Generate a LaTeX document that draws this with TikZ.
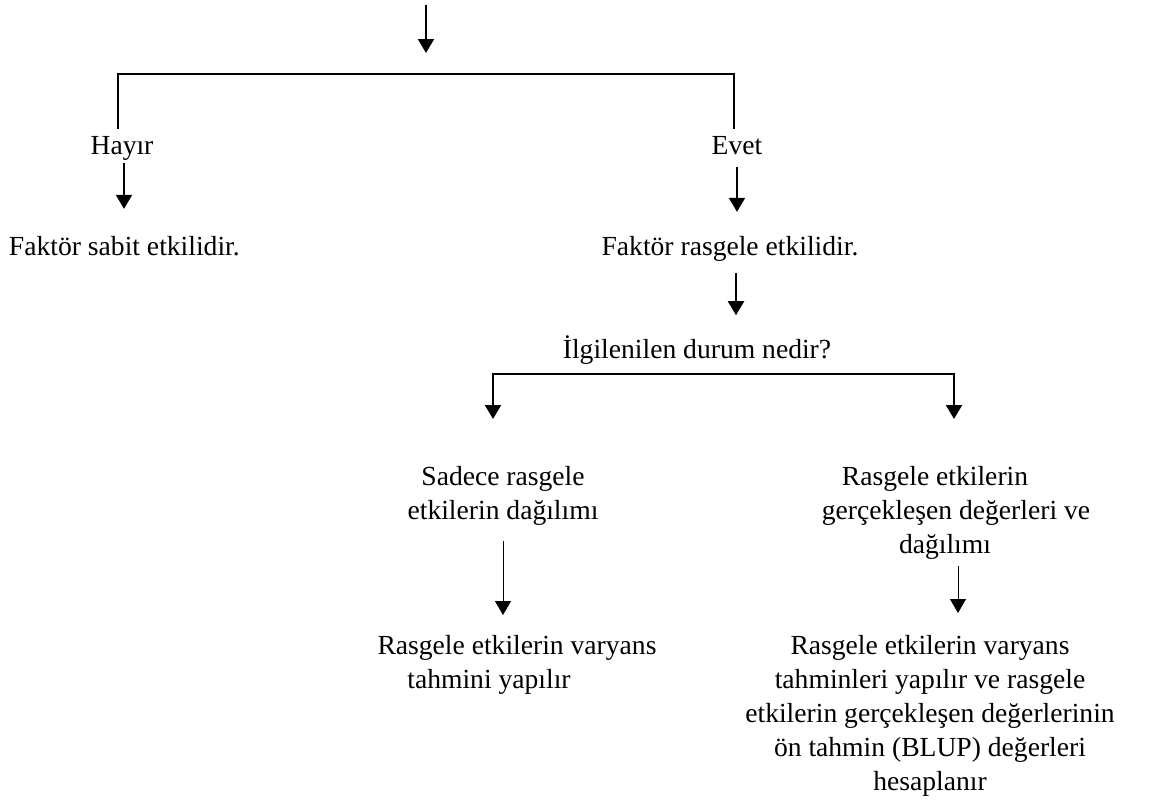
\documentclass[tikz,border=0pt]{standalone}
\usepackage{fontspec}
\setmainfont{Liberation Serif}
\usepackage{tikz}
\usetikzlibrary{arrows.meta}

\begin{document}
\begin{tikzpicture}[x=0.5pt,y=-0.5pt,line width=1pt,
  every node/.style={font=\fontsize{13.8}{17}\selectfont,inner sep=3pt},
  head/.tip={Triangle[width=8pt,length=7pt]}]
\useasboundingbox (0,0) rectangle (1162,805);
\draw (122,154) node[anchor=base] (H) {Hayır}
  +(615,0) node[anchor=base] (E) {Evet}
  +(-120,101) node[anchor=base west] (F1) {Faktör sabit etkilidir.}
  +(608,101) node[anchor=base] (F2) {Faktör rasgele etkilidir.}
  +(575,204) node[anchor=base] (Q) {İlgilenilen durum nedir?};
\draw (503,459) node[anchor=north,align=center] (S1) {Sadece rasgele\\etkilerin dağılımı}
  +(442,0) node[anchor=north,align=center] (R1) {Rasgele etkilerin\hspace*{10pt}\\\hspace*{11pt}gerçekleşen değerleri ve\\dağılımı}
  +(-14,169) node[anchor=north,align=center] (S2) {\hspace*{28pt}Rasgele etkilerin varyans\\tahmini yapılır}
  +(427,169) node[anchor=north,align=center] (R2) {Rasgele etkilerin varyans\\tahminleri yapılır ve rasgele\\etkilerin gerçekleşen değerlerinin\\ön tahmin (BLUP) değerleri\\hesaplanır};
\coordinate (T0) at (426,5);
\coordinate (T1) at (426,53);
\coordinate (B) at (426,74);
\coordinate (L0) at (493,419);
\coordinate (L1) at (493,374);
\coordinate (K1) at (954,374);
\coordinate (K0) at (954,419);
\draw[-head] (T0)--(T1);
\draw[line width=0.8pt] ([xshift=-2pt]H.north)|-(B)-|([xshift=-1.5pt]E.north);
\draw[-head,shorten <=-2pt,shorten >=10pt] ([xshift=1pt]H.south)--([xshift=1pt]H.south|-F1.north);
\draw[-head,shorten <=3pt,shorten >=8.5pt] (E.south)--(E.south|-F2.north);
\draw[-head,shorten <=2.5pt,shorten >=6.5pt] ([xshift=3pt]F2.south)--([xshift=3pt]F2.south|-Q.north);
\draw[head-head] (L0)--(L1)--(K1)--(K0);
\draw[-head,line width=0.4pt,shorten <=4.5pt,shorten >=6.5pt] (S1.south)--(S1.south|-S2.north);
\draw[-head,line width=0.4pt,shorten >=7.5pt] ([xshift=6.5pt]R1.south)--([xshift=6.5pt]R1.south|-R2.north);
\end{tikzpicture}
\end{document}
